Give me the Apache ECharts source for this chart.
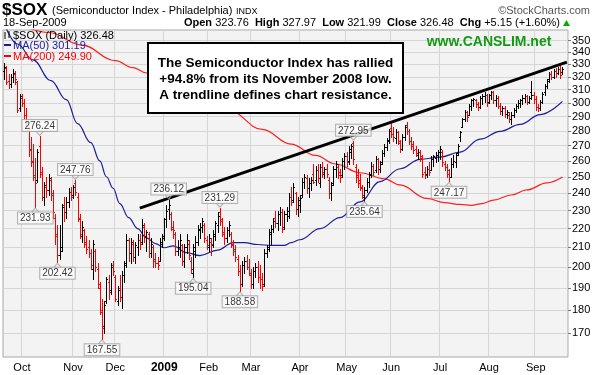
<!DOCTYPE html>
<html><head><meta charset="utf-8">
<script src="https://cdn.jsdelivr.net/npm/echarts@6/dist/echarts.min.js"></script>
<style>html,body{margin:0;padding:0;background:#fff}#c{width:602px;height:375px}</style>
</head><body><div id="c"></div>
<script>
// ---- OHLC data, [open, high, low, close], one small array per month ----
const sep08 = [[325,331,318,328],[327,329,314,316],[317,322,311,314],[314,322,312,320],[320,326,316,323],[322,325,314,318],[316,317,293,295],[296,307,294,305]];
const oct08 = [[304,307,298,300],[300,303,289,291],[291,296,284,286],[282,283,263,267],[268,276,257,260],[259,271,248,251],[250,262,231.93,246],[248,268,247,266],[270,276.24,250,253],[252,256,236,238],[238,247,233,245],[244,250,238,242],[242,252,239,249],[248,250,236,240],[239,242,226,229],[226,228,212,216],[217,222,202.42,206],[206,222,204,208],[210,234,208,232],[233,238,224,229],[229,238,226,235],[235,243,232,241],[241,244,236,238]];
const nov08 = [[239,245,237,244],[246,247.76,239,241],[238,240,224,226],[225,228,215,217],[216,224,213,221],[219,220,210,212],[213,216,207,209],[210,214,205,207],[207,209,199,201],[199,214,194,212],[208,209,198,200],[199,202,190,192],[190,193,178,180],[179,185,167.55,172],[173,184,170,182],[184,195,183,194],[193,196,185,188],[189,202,187,200],[201,203,196,198]];
const dec08 = [[195,196,184,185],[184,191,182,189],[190,196,184,186],[186,198,181,196],[196,203,193,201],[202,217,200,214],[214,215,203,207],[207,215,202,213],[212,214,203,205],[205,213,202,211],[210,217,206,214],[214,217,209,212],[213,225,212,222],[221,223,213,216],[216,219,208,218],[217,218,205,207],[207,215,205,212],[210,211,200,203],[204,207,200,202],[202,205,199,201],[203,215,203,213],[212,217,210,215]];
const jan09 = [[216,226,214,225],[225,233,221,230],[231,236.12,225,233],[228,229,219,221],[220,224,215,219],[217,218,206,208],[208,214,206,210],[210,217,205,214],[211,212,201,203],[203,212,200,210],[210,217,207,214],[212,214,204,206],[203,205,197,199],[197,212,195.04,210],[208,216,205,213],[213,222,211,220],[219,223,215,221],[221,226,218,224],[222,223,213,215],[214,216,209,211]];
const feb09 = [[210,217,208,215],[213,215,206,212],[211,219,210,217],[216,224,214,223],[222,229,218,227],[229,231.29,222,225],[224,226,216,218],[217,221,212,215],[215,221,213,219],[219,224,216,222],[217,218,210,212],[211,214,206,208],[209,211,203,205],[204,206,196,198],[198,201,188.58,192],[192,203,191,201],[201,205,197,203],[203,206,199,200],[200,204,196,197]];
const mar09 = [[196,199,190,192],[192,200,190,198],[198,202,195,200],[200,203,193,195],[195,201,190,194],[194,197,189,191],[192,209,191,207],[207,211,205,209],[210,220,208,218],[217,222,212,220],[220,226,218,224],[226,230,221,223],[223,230,219,228],[228,232,222,229],[229,231,218,220],[221,230,220,228],[228,232,224,230],[227,240,226,238],[238,244,233,235],[236,246,235,244],[240,241,228,231],[231,238,227,236]];
const apr09 = [[233,239,229,237],[239,249,238,247],[247,252,243,250],[249,251,240,243],[243,249,238,246],[246,250,242,248],[252,258,246,247],[248,257,245,254],[254,258,247,249],[246,258,244,256],[256,259,250,253],[252,256,249,255],[255,258,250,252],[248,250,237,240],[240,247,236,245],[246,257,245,255],[255,260,250,258],[256,258,249,251],[253,255,247,250],[251,262,250,260],[260,265,255,263]];
const may09 = [[263,266,257,259],[260,270,258,268],[266,271,262,270],[272,272.95,258,261],[256,258,247,250],[251,255,244,246],[248,252,242,244],[243,245,237,239],[238,244,235.64,242],[242,249,241,247],[247,253,244,251],[252,259,250,257],[257,258,251,253],[254,263,253,261],[261,262,252,255],[255,260,253,258],[259,267,258,265],[265,271,263,269],[269,275,267,273],[274,281,272,280]];
const jun09 = [[282,286,276,278],[278,283,273,276],[275,281,272,279],[279,280,271,273],[272,274,266,268],[268,278,267,276],[276,284,274,283],[284,286,278,280],[280,281,271,273],[273,276,268,270],[271,273,265,267],[268,270,263,265],[264,268,261,266],[266,267,260,262],[263,264,250,252],[253,256,249,251],[252,257,250,255],[255,259,251,253],[254,263,254,261],[261,264,257,263],[262,266,259,264],[264,267,260,266]];
const jul09 = [[266,270,261,268],[266,267,257,259],[258,260,254,256],[256,258,250,252],[254,255,247.17,250],[250,262,250,258],[258,264,256,260],[259,265,256,264],[265,271,264,270],[276,280,273,279],[283,289,283,288],[288,295,287,293],[293,294,287,290],[291,299,291,298],[298,303,295,302],[302,304,298,303],[302,303,297,299],[299,301,295,297],[297,305,296,304],[304,307,299,305],[305,308,301,306],[306,307,298,300]];
const aug09 = [[301,307,300,306],[306,309,303,308],[308,309,300,302],[302,306,298,304],[304,305,296,298],[298,300,292,294],[294,298,291,296],[296,298,290,292],[292,295,289,293],[291,293,286,288],[288,293,285,291],[291,296,290,295],[295,299,293,298],[298,302,296,300],[300,303,297,302],[302,306,299,304],[304,307,301,305],[305,306,299,301],[301,305,300,304],[308,317,303,306],[306,308,300,303]];
const sep09 = [[303,305,295,297],[297,299,294,296],[296,302,295,301],[301,308,300,307],[308,314,306,313],[313,318,311,317],[318,324,316,322],[322,325,318,320],[320,326,319,325],[325,327,320,323],[323,328,322,326.5],[326,329,319,321.33],[323.76,327.97,321.99,326.48]];

// ---- moving averages: [bar index, value] ----
const ma50Idx = [0,6,13,21,28,33,39,43,46,49,52,56,60,64,68,72,76,82,88,96,103,108,114,120,126,129,133,142,151,160,169,178,187,196,205,214,223,232,241,251];
const ma50Val = [365,347,333.6,317,302.4,285,272,260,250,243,234,226,220,215,212,209.8,210.8,207.3,205.8,208.6,212.5,212.5,211.5,211,211,212.5,214,220,226,235,247,255,261,262.4,265.7,274.3,279.7,284.5,291.5,301.19];
const ma200Idx = [0,20,35,50,58,64,84,101,116,129,140,149,160,171,178,190,198,205,210,215,220,228,235,244,251];
const ma200Val = [372,357,346,333,327.3,323,310,294.5,281,271,263.5,258,252.5,248.7,245,237,234.5,233.5,233,234,236,239,242,246.3,249.9];

// ---- annotations ----
const highMarks = [[16,276.24],[32,247.76],[74,236.12],[97,231.29],[157,272.95]];
const lowMarks = [[14,231.93],[24,202.42],[44,167.55],[85,195.04],[106,188.58],[162,235.64],[200,247.17]];
const trendIdx = [61, 253];
const trendVal = [231.4, 331.8];
const yTicks = [170,180,190,200,210,220,230,240,250,260,270,280,290,300,310,320,330,340,350];
const monthNames = ['Jan','Feb','Mar','Apr','May','Jun','Jul','Aug','Sep','Oct','Nov','Dec'];
const holidays = ['2008-11-27','2008-12-25','2009-01-01','2009-01-19','2009-02-16','2009-04-10','2009-05-25','2009-07-03','2009-09-07'];

const ohlc = [].concat(sep08,oct08,nov08,dec08,jan09,feb09,mar09,apr09,may09,jun09,jul09,aug09,sep09);

// trading dates
const dates = [];
for (let t = Date.UTC(2008,8,19); t <= Date.UTC(2009,8,18); t += 86400000) {
  const d = new Date(t);
  const wd = d.getUTCDay();
  const s = d.toISOString().slice(0,10);
  if (wd === 0 || wd === 6 || holidays.includes(s)) continue;
  dates.push(s);
}
const cats = dates.slice(0, ohlc.length).concat(['', '']);
const monthStart = {};
for (let i = 1; i < dates.length; i++) {
  if (dates[i].slice(5,7) !== dates[i-1].slice(5,7)) {
    const m = +dates[i].slice(5,7);
    monthStart[i] = m === 1 ? dates[i].slice(0,4) : monthNames[m-1];
  }
}
const isMonthStart = (idx) => monthStart[idx] !== undefined;

const barData = ohlc.map((r, i) => [i, r[0], r[1], r[2], r[3], (i > 0 && r[3] < ohlc[i-1][3]) ? 1 : 0]);

function renderBar(params, api) {
  const i = api.value(0);
  const pO = api.coord([i, api.value(1)]);
  const pH = api.coord([i, api.value(2)]);
  const pL = api.coord([i, api.value(3)]);
  const pC = api.coord([i, api.value(4)]);
  const x = Math.round(pH[0]) + 0.5;
  const col = api.value(5) ? '#ff0000' : '#000000';
  const st = {stroke: col, lineWidth: 1};
  const yo = Math.round(pO[1]) + 0.5, yc = Math.round(pC[1]) + 0.5;
  return {type: 'group', children: [
    {type: 'line', shape: {x1: x, y1: Math.round(pH[1]), x2: x, y2: Math.round(pL[1]) + 1}, style: st},
    {type: 'line', shape: {x1: x - 1.5, y1: yo, x2: x, y2: yo}, style: st},
    {type: 'line', shape: {x1: x, y1: yc, x2: x + 1.5, y2: yc}, style: st}
  ]};
}

const pairs = (a, b) => a.map((v, k) => [v, b[k]]);
const FONT = 'Liberation Sans, Arial, sans-serif';
const markLabel = (pos) => ({
  show: true, position: pos, distance: 0,
  formatter: p => p.value[1].toFixed(2),
  fontSize: 10, color: '#000', fontFamily: FONT,
  backgroundColor: '#ffffff', borderColor: '#a0a0a0', borderWidth: 1, padding: [1, 2, 0, 2]
});
const caretDown = 'path://M0,0 L4,5 L8,0';
const caretUp = 'path://M0,5 L4,0 L8,5';

const chart = echarts.init(document.getElementById('c'), null, {renderer: 'canvas'});
chart.setOption({
  animation: false,
  backgroundColor: '#ffffff',
  grid: {left: 3, right: 34, top: 30, bottom: 18, show: true, backgroundColor: '#f3f3f3', borderColor: '#a8a8a8', borderWidth: 1},
  xAxis: {
    type: 'category', data: cats, boundaryGap: true,
    axisLine: {show: false}, axisTick: {show: false},
    axisLabel: {interval: (idx) => isMonthStart(idx), formatter: (v, idx) => {
      const m = monthStart[idx]; return m && m.length === 4 ? '{b|' + m + '}' : (m || '');
    }, fontSize: 11, color: '#000', fontFamily: FONT, margin: 5,
      rich: {b: {fontWeight: 'bold', fontSize: 12, color: '#000', fontFamily: FONT}}},
    splitLine: {show: true, interval: (idx) => isMonthStart(idx), lineStyle: {color: '#d6d6d6', width: 1}}
  },
  yAxis: {
    type: 'log', logBase: 10, position: 'right', min: 160.2, max: 359.2,
    axisLine: {show: false},
    axisTick: {show: true, length: 3, customValues: yTicks, lineStyle: {color: '#777'}},
    axisLabel: {customValues: yTicks, formatter: v => String(Math.round(v)), fontSize: 11, color: '#000', fontFamily: FONT, margin: 4},
    splitLine: {show: true, lineStyle: {color: '#d6d6d6', width: 1}}
  },
  series: [
    {type: 'line', data: pairs(ma200Idx, ma200Val), symbol: 'none', smooth: 0.4, smoothMonotone: 'x', lineStyle: {color: '#ff2020', width: 1.2}, z: 2},
    {type: 'line', data: pairs(ma50Idx, ma50Val), symbol: 'none', smooth: 0.4, smoothMonotone: 'x', lineStyle: {color: '#1c1c9a', width: 1.2}, z: 2},
    {type: 'custom', renderItem: renderBar, data: barData, encode: {x: 0, y: [1,2,3,4]}, clip: true, z: 3},
    {type: 'line', data: pairs(trendIdx, trendVal), symbol: 'none', lineStyle: {color: '#000', width: 3}, z: 4},
    {type: 'scatter', data: highMarks, symbol: caretDown, symbolSize: [7, 4], symbolOffset: [0, -3],
      itemStyle: {color: 'rgba(0,0,0,0)', borderColor: '#a0a0a0', borderWidth: 1}, label: markLabel('top'), z: 5},
    {type: 'scatter', data: lowMarks, symbol: caretUp, symbolSize: [7, 4], symbolOffset: [0, 3],
      itemStyle: {color: 'rgba(0,0,0,0)', borderColor: '#a0a0a0', borderWidth: 1}, label: markLabel('bottom'), z: 5}
  ],
  graphic: [
    {type: 'text', left: 2, top: 2, style: {text: '$SOX', font: 'bold 17px ' + FONT, fill: '#000'}},
    {type: 'text', left: 52, top: 5, style: {text: '(Semiconductor Index - Philadelphia)', font: '11px ' + FONT, fill: '#000'}},
    {type: 'text', left: 236, top: 7, style: {text: 'INDX', font: '9px ' + FONT, fill: '#000'}},
    {type: 'text', right: 12, top: 5, style: {text: '\u00A9StockCharts.com', font: '11px ' + FONT, fill: '#555'}},
    {type: 'text', left: 3, top: 17, style: {text: '18-Sep-2009', font: '11px ' + FONT, fill: '#000'}},
    {type: 'text', right: 42, top: 17, style: {
      text: '{b|Open} 323.76  {b|High} 327.97  {b|Low} 321.99  {b|Close} 326.48  {b|Chg} +5.15 (+1.60%)',
      font: '11px ' + FONT, fill: '#000', rich: {b: {fontWeight: 'bold', fontSize: 11, fontFamily: FONT, fill: '#000'}}}},
    {type: 'polygon', shape: {points: [[563,26],[570,26],[566.5,20]]}, style: {fill: '#00b000'}},
    // legend
    {type: 'polyline', shape: {points: [[5,32],[5,39]]}, style: {stroke: '#000', lineWidth: 1}, z: 50},
    {type: 'polyline', shape: {points: [[9,31],[9,38]]}, style: {stroke: '#000', lineWidth: 1}, z: 50},
    {type: 'text', left: 13, top: 30, style: {text: '$SOX (Daily) 326.48', font: '11px ' + FONT, fill: '#000'}, z: 50},
    {type: 'rect', shape: {x: 4, y: 44, width: 7, height: 2}, style: {fill: '#1c1c9a'}, z: 50},
    {type: 'text', left: 13, top: 40, style: {text: 'MA(50) 301.19', font: '11px ' + FONT, fill: '#1c1c9a'}, z: 50},
    {type: 'rect', shape: {x: 4, y: 55, width: 7, height: 2}, style: {fill: '#ff0000'}, z: 50},
    {type: 'text', left: 13, top: 51, style: {text: 'MA(200) 249.90', font: '11px ' + FONT, fill: '#ff0000'}, z: 50},
    {type: 'text', x: 489, y: 42, style: {text: 'www.CANSLIM.net', font: 'bold 14px ' + FONT, fill: '#139a13', align: 'center', verticalAlign: 'middle'}, z: 50},
    // annotation box
    {type: 'rect', shape: {x: 148, y: 43, width: 255, height: 70}, style: {fill: '#ffffff', stroke: '#000', lineWidth: 2}, z: 60},
    {type: 'text', x: 275.5, y: 63, style: {text: 'The Semiconductor Index has rallied', font: 'bold 13.5px ' + FONT, fill: '#000', align: 'center', verticalAlign: 'middle'}, z: 61},
    {type: 'text', x: 275.5, y: 79, style: {text: '+94.8% from its November 2008 low.', font: 'bold 13.5px ' + FONT, fill: '#000', align: 'center', verticalAlign: 'middle'}, z: 61},
    {type: 'text', x: 275.5, y: 95, style: {text: 'A trendline defines chart resistance.', font: 'bold 13.5px ' + FONT, fill: '#000', align: 'center', verticalAlign: 'middle'}, z: 61}
  ]
});
</script></body></html>
